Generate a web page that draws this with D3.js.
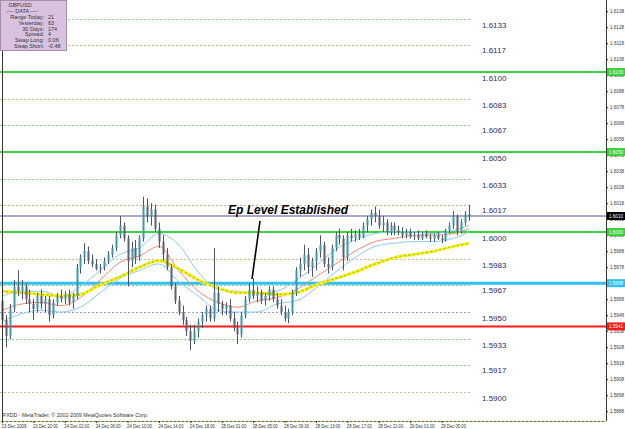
<!DOCTYPE html>
<html><head><meta charset="utf-8">
<script src="https://cdn.jsdelivr.net/npm/d3@7"></script>
<style>body{margin:0;background:#fff}svg{display:block}</style>
</head><body>
<svg id="c" width="625" height="429"></svg>
<script>
// ---- data ----
const barOpen = [1.5957,1.5945,1.5935,1.5952,1.5966,1.5963,1.5966,1.5958,1.5955,1.5952,
1.5960,1.5955,1.5958,1.5948,1.5956,1.5960,1.5958,1.5961,1.5956,1.5960,
1.5978,1.5984,1.5988,1.5982,1.5980,1.5977,1.5978,1.5982,1.5986,1.5990,
1.5998,1.6004,1.5996,1.5982,1.5990,1.5984,1.5996,1.6016,1.6010,1.6014,
1.6002,1.5994,1.5986,1.5978,1.5966,1.5957,1.5950,1.5945,1.5938,1.5932,
1.5938,1.5944,1.5948,1.5952,1.5946,1.5962,1.5955,1.5952,1.5954,1.5946,
1.5940,1.5936,1.5948,1.5958,1.5964,1.5960,1.5962,1.5957,1.5960,1.5964,
1.5958,1.5954,1.5950,1.5946,1.5950,1.5962,1.5976,1.5980,1.5986,1.5978,
1.5982,1.5988,1.5992,1.5980,1.5978,1.5990,1.5998,1.5996,1.5984,1.5998,
1.5996,1.5999,1.5997,1.6004,1.6008,1.6012,1.6010,1.6004,1.6006,1.6000,
1.6004,1.6001,1.6000,1.5998,1.6000,1.5997,1.5998,1.5996,1.5999,1.5997,
1.5996,1.5998,1.5996,1.5995,1.6001,1.6004,1.6010,1.6000,1.6006,1.6011];
const barHigh = [1.5960,1.5948,1.5955,1.5970,1.5976,1.5970,1.5968,1.5964,1.5958,1.5962,
1.5964,1.5960,1.5960,1.5958,1.5962,1.5964,1.5963,1.5964,1.5962,1.5980,
1.5986,1.5993,1.5991,1.5986,1.5983,1.5980,1.5984,1.5988,1.5992,1.6000,
1.6010,1.6006,1.5998,1.5994,1.5995,1.5998,1.6022,1.6021,1.6018,1.6017,
1.6006,1.5998,1.5990,1.5980,1.5968,1.5960,1.5954,1.5947,1.5942,1.5942,
1.5946,1.5950,1.5954,1.5954,1.5990,1.5966,1.5957,1.5956,1.5958,1.5950,
1.5944,1.5950,1.5960,1.5968,1.5971,1.5966,1.5964,1.5962,1.5966,1.5966,
1.5962,1.5958,1.5954,1.5952,1.5964,1.5978,1.5984,1.5992,1.5990,1.5984,
1.5990,1.5998,1.5994,1.5984,1.5992,1.6000,1.6002,1.5998,1.6000,1.6002,
1.6001,1.6002,1.6006,1.6010,1.6014,1.6016,1.6014,1.6010,1.6008,1.6006,
1.6006,1.6004,1.6003,1.6002,1.6002,1.6000,1.6001,1.6000,1.6001,1.5999,
1.5999,1.6000,1.5998,1.6002,1.6006,1.6013,1.6011,1.6008,1.6013,1.6017];
const barLow = [1.5940,1.5928,1.5933,1.5950,1.5960,1.5958,1.5955,1.5950,1.5945,1.5950,
1.5952,1.5950,1.5944,1.5946,1.5954,1.5956,1.5955,1.5954,1.5952,1.5958,
1.5974,1.5980,1.5980,1.5978,1.5976,1.5974,1.5976,1.5980,1.5984,1.5988,
1.5996,1.5994,1.5966,1.5978,1.5980,1.5982,1.5994,1.6006,1.6004,1.6000,
1.5990,1.5982,1.5976,1.5964,1.5955,1.5948,1.5942,1.5935,1.5926,1.5930,
1.5934,1.5940,1.5944,1.5944,1.5944,1.5950,1.5948,1.5948,1.5944,1.5938,
1.5930,1.5934,1.5946,1.5956,1.5958,1.5956,1.5955,1.5954,1.5957,1.5956,
1.5952,1.5948,1.5944,1.5943,1.5948,1.5960,1.5972,1.5976,1.5974,1.5972,
1.5976,1.5984,1.5978,1.5974,1.5976,1.5988,1.5992,1.5976,1.5982,1.5994,
1.5994,1.5995,1.5996,1.6000,1.6004,1.6006,1.6002,1.6000,1.5998,1.5998,
1.5998,1.5998,1.5996,1.5996,1.5996,1.5995,1.5995,1.5995,1.5996,1.5994,
1.5994,1.5995,1.5993,1.5994,1.5999,1.6002,1.5998,1.5999,1.6004,1.6007];
const barClose = [1.5945,1.5935,1.5952,1.5966,1.5963,1.5966,1.5958,1.5955,1.5952,1.5960,
1.5955,1.5958,1.5948,1.5956,1.5960,1.5958,1.5961,1.5956,1.5960,1.5978,
1.5984,1.5988,1.5982,1.5980,1.5977,1.5978,1.5982,1.5986,1.5990,1.5998,
1.6004,1.5996,1.5982,1.5990,1.5984,1.5996,1.6016,1.6010,1.6014,1.6002,
1.5994,1.5986,1.5978,1.5966,1.5957,1.5950,1.5945,1.5938,1.5932,1.5938,
1.5944,1.5948,1.5952,1.5946,1.5962,1.5955,1.5952,1.5954,1.5946,1.5940,
1.5936,1.5948,1.5958,1.5964,1.5960,1.5962,1.5957,1.5960,1.5964,1.5958,
1.5954,1.5950,1.5946,1.5950,1.5962,1.5976,1.5980,1.5986,1.5978,1.5982,
1.5988,1.5992,1.5980,1.5978,1.5990,1.5998,1.5996,1.5984,1.5998,1.5996,
1.5999,1.5997,1.6004,1.6008,1.6012,1.6010,1.6004,1.6006,1.6000,1.6004,
1.6001,1.6000,1.5998,1.6000,1.5997,1.5998,1.5996,1.5999,1.5997,1.5996,
1.5998,1.5996,1.5995,1.6001,1.6004,1.6010,1.6000,1.6006,1.6011,1.6010];

const maIndex   = [0,5,10,15,20,25,30,35,40,45,50,55,60,65,70,75,80,85,90,95,100,105,110,115,119];
const maSlow    = [1.5963,1.5962,1.5961,1.5960,1.5961,1.5967,1.5972,1.5978,1.5982,1.5977,1.5970,1.5965,1.5962,1.5962,1.5961,1.5962,1.5967,1.5971,1.5975,1.5980,1.5984,1.5986,1.5988,1.5991,1.5993];
const maMid     = [1.5951,1.5955,1.5956,1.5954,1.5959,1.5970,1.5981,1.5985,1.5991,1.5976,1.5963,1.5956,1.5953,1.5957,1.5959,1.5964,1.5972,1.5980,1.5988,1.5994,1.5996,1.5998,1.5998,1.5999,1.6002];
const bandUpper = [1.5960,1.5963,1.5963,1.5960,1.5966,1.5976,1.5986,1.5990,1.5999,1.5992,1.5975,1.5964,1.5963,1.5962,1.5963,1.5970,1.5979,1.5989,1.5995,1.5999,1.6000,1.6000,1.5999,1.6001,1.6004];
const bandLower = [1.5944,1.5949,1.5951,1.5950,1.5953,1.5962,1.5971,1.5976,1.5980,1.5969,1.5960,1.5951,1.5950,1.5950,1.5955,1.5957,1.5965,1.5975,1.5984,1.5991,1.5993,1.5994,1.5994,1.5996,1.6000];

const levelValues = [1.6133,1.6117,1.6100,1.6083,1.6067,1.6050,1.6033,1.6017,1.6000,1.5983,1.5967,1.5950,1.5933,1.5917,1.5900];
const levelLabels = ["1.6133","1.6117","1.6100","1.6083","1.6067","1.6050","1.6033","1.6017","1.6000","1.5983","1.5967","1.5950","1.5933","1.5917","1.5900"];
const levelKinds  = ["g","k","g","k","g","g","g","k","g","k","g","b","g","g","k"];

const hLineValues = [1.6100,1.6050,1.6000,1.6010,1.5968,1.5941];
const hLineLabels = ["1.6100","1.6050","1.6000","1.6010","1.5968","1.5941"];
const hLineKinds  = ["green","green","green","price","blue","red"];

const axisTicks = [1.6138,1.6128,1.6118,1.6108,1.6098,1.6088,1.6078,1.6068,1.6058,1.6048,1.6038,1.6028,1.6018,1.6008,1.5998,1.5988,1.5978,1.5968,1.5958,1.5948,1.5938,1.5928,1.5918,1.5908,1.5898,1.5888];

const timeTickIndex = [0,8,16,24,32,40,48,56,64,72,80,88,96,104,112];
const timeLabels = ["23 Dec 2009","23 Dec 22:00","24 Dec 02:00","24 Dec 06:00","24 Dec 10:00","24 Dec 14:00","24 Dec 18:00","28 Dec 01:00","28 Dec 05:00","28 Dec 09:00","28 Dec 13:00","28 Dec 17:00","28 Dec 21:00","29 Dec 01:00","29 Dec 05:00"];

const infoLabels = ["Range Today:","Yesterday:","30 Days:","Spread:","Swap Long:","Swap Short:"];
const infoValues = ["21","63","174","4","0.06","-0.48"];

// ---- chart ----
const FONT = "Liberation Sans, Arial, sans-serif";
const svg = d3.select("#c");
const plotR = 606, plotB = 421;
const x = d3.scaleLinear().domain([0, 119]).range([2, 469]);
const y = d3.scaleLinear().domain([1.6100, 1.6050]).range([72, 152]);

// Murrey-style dotted levels
const kindColor = {g:"#8fd68f", k:"#c8c290", b:"#9a9ae0"};
levelValues.forEach((v,i)=>{
  svg.append("line").attr("x1",0).attr("x2",470)
    .attr("y1",Math.round(y(v))+0.5).attr("y2",Math.round(y(v))+0.5)
    .attr("stroke",kindColor[levelKinds[i]]).attr("stroke-width",1)
    .attr("stroke-dasharray","2,2");
});

// solid horizontal lines
const hColor = {green:"#3cd23c", price:"#a8a8c8", blue:"#30c0f0", red:"#ff1a1a"};
const hWidth = {green:2, price:2, blue:3, red:2};
hLineValues.forEach((v,i)=>{
  svg.append("line").attr("x1",0).attr("x2",plotR)
    .attr("y1",y(v)).attr("y2",y(v))
    .attr("stroke",hColor[hLineKinds[i]]).attr("stroke-width",hWidth[hLineKinds[i]]);
});

// indicator lines
const lineGen = arr => d3.line().x((d,i)=>x(maIndex[i])).y(d=>y(d)).curve(d3.curveMonotoneX)(arr);
svg.append("path").attr("d",lineGen(bandUpper)).attr("fill","none").attr("stroke","#8ccaf2").attr("stroke-width",1);
svg.append("path").attr("d",lineGen(bandLower)).attr("fill","none").attr("stroke","#8ccaf2").attr("stroke-width",1);
svg.append("path").attr("d",lineGen(maMid)).attr("fill","none").attr("stroke","#f08878").attr("stroke-width",1);
svg.append("path").attr("d",lineGen(maSlow)).attr("fill","none").attr("stroke","#f2f020").attr("stroke-width",3);
svg.append("path").attr("d",lineGen(maSlow)).attr("fill","none").attr("stroke","#b8b400").attr("stroke-width",1.4).attr("stroke-dasharray","1.5,3");

// candles
const bars = barOpen.map((o,i)=>({i,o,h:barHigh[i],l:barLow[i],c:barClose[i]}));
const g = svg.append("g");
g.selectAll("line.w").data(bars).join("line")
  .attr("x1",d=>Math.round(x(d.i))+0.5).attr("x2",d=>Math.round(x(d.i))+0.5)
  .attr("y1",d=>y(d.h)).attr("y2",d=>y(d.l))
  .attr("stroke","#4c5566").attr("stroke-width",1);
g.selectAll("rect.b").data(bars).join("rect")
  .attr("x",d=>Math.round(x(d.i))-0.5).attr("width",2)
  .attr("y",d=>y(Math.max(d.o,d.c)))
  .attr("height",d=>Math.max(1,Math.abs(y(d.o)-y(d.c))))
  .attr("fill",d=>d.c>=d.o?"#3e97aa":"#5a6272");

// level labels
levelValues.forEach((v,i)=>{
  svg.append("text").attr("x",482).attr("y",y(v)+8.5)
    .attr("font-family",FONT).attr("font-size",8)
    .attr("fill","#2e2e5c").text(levelLabels[i]);
});

// annotation
svg.append("text").attr("x",228).attr("y",214)
  .attr("font-family",FONT).attr("font-size",12)
  .attr("font-weight","bold").attr("font-style","italic").attr("fill","#000")
  .text("Ep Level Established");
svg.append("line").attr("x1",260).attr("y1",221).attr("x2",252).attr("y2",279)
  .attr("stroke","#000").attr("stroke-width",1.6);

// frame
svg.append("line").attr("x1",2.5).attr("x2",2.5).attr("y1",0).attr("y2",plotB).attr("stroke","#333").attr("stroke-width",1);
svg.append("line").attr("x1",plotR+0.5).attr("x2",plotR+0.5).attr("y1",0).attr("y2",plotB).attr("stroke","#333").attr("stroke-width",1);
svg.append("line").attr("x1",0).attr("x2",plotR).attr("y1",plotB+0.5).attr("y2",plotB+0.5).attr("stroke","#666").attr("stroke-width",1);
svg.append("line").attr("x1",0).attr("x2",plotR).attr("y1",plotB+0.5).attr("y2",plotB+0.5).attr("stroke","#c8c060").attr("stroke-width",1).attr("stroke-dasharray","2,2");

// right axis
const yAxis = d3.axisRight(y).tickValues(axisTicks).tickSize(2).tickFormat(d3.format(".4f"));
const ax = svg.append("g").attr("transform",`translate(${plotR},0)`).call(yAxis);
ax.select(".domain").remove();
ax.selectAll("line").attr("stroke","#333");
ax.selectAll("text").attr("font-family",FONT).attr("font-size",5).attr("fill","#333")
  .attr("x",4).attr("textLength",14).attr("lengthAdjust","spacingAndGlyphs");

// price label boxes on axis
const boxFill = {green:"#3cd23c", price:"#000", blue:"#30c0f0", red:"#ff1a1a"};
hLineValues.forEach((v,i)=>{
  const k = hLineKinds[i];
  svg.append("rect").attr("x",plotR+1).attr("y",y(v)-4).attr("width",18).attr("height",8).attr("fill",boxFill[k]);
  svg.append("text").attr("x",plotR+3).attr("y",y(v)+2)
    .attr("font-family",FONT).attr("font-size",5)
    .attr("textLength",14).attr("lengthAdjust","spacingAndGlyphs")
    .attr("fill","#fff").text(hLineLabels[i]);
});

// bottom time axis
const xAxis = d3.axisBottom(x).tickValues(timeTickIndex).tickSize(2).tickFormat((d,i)=>timeLabels[i]);
const bx = svg.append("g").attr("transform",`translate(0,${plotB})`).call(xAxis);
bx.select(".domain").remove();
bx.selectAll("line").attr("stroke","#333");
bx.selectAll("text").attr("font-family",FONT).attr("font-size",5.5)
  .attr("fill","#333").attr("text-anchor","start").attr("dy",0).attr("y",7).attr("x",-1)
  .attr("textLength",25).attr("lengthAdjust","spacingAndGlyphs");

// copyright
svg.append("text").attr("x",3).attr("y",417).attr("font-family",FONT)
  .attr("font-size",5.5).attr("fill","#333").attr("textLength",145).attr("lengthAdjust","spacingAndGlyphs")
  .text("FXDD - MetaTrader, \u00a9 2001-2009 MetaQuotes Software Corp.");

// info box
svg.append("rect").attr("x",0.5).attr("y",0.5).attr("width",66).attr("height",50).attr("fill","#d9c2e0").attr("stroke","#a090a8");
svg.append("text").attr("x",20).attr("y",6.5).attr("text-anchor","middle").attr("font-family",FONT).attr("font-size",5.5).attr("fill","#333").text("GBPUSD");
svg.append("text").attr("x",22).attr("y",12.5).attr("text-anchor","middle").attr("font-family",FONT).attr("font-size",5.5).attr("fill","#333").text("---- DATA ----");
infoLabels.forEach((t,i)=>{
  svg.append("text").attr("x",44).attr("y",19+i*5.8).attr("text-anchor","end").attr("font-family",FONT).attr("font-size",5.5).attr("fill","#333").text(t);
  svg.append("text").attr("x",48).attr("y",19+i*5.8).attr("font-family",FONT).attr("font-size",5.5).attr("fill","#333").text(infoValues[i]);
});
</script>
</body></html>
